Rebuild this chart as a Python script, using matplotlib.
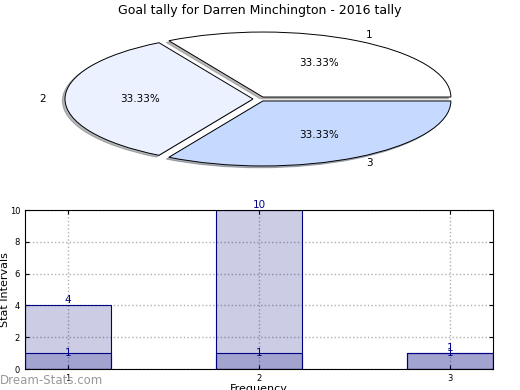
import matplotlib
matplotlib.use("Agg")
import matplotlib.pyplot as plt

title = "Goal tally for Darren Minchington - 2016 tally"
pie_labels = ["1", "2", "3"]
pie_values = [1, 1, 1]
pie_colors = ["#ffffff", "#ebf1ff", "#c6d9ff"]

bar_x = [1, 2, 3]
bar_tall = [4, 10, 1]
bar_short = [1, 1, 1]
yticks = [0, 2, 4, 6, 8, 10]

fig = plt.figure(figsize=(5.2, 3.9), dpi=100)
fig.text(0.5, 0.974, title, ha="center", va="center", fontsize=9)

# Pie
axp = fig.add_axes([0.0292, 0.5295, 0.94, 0.4333])
wedges, texts, autotexts = axp.pie(
    pie_values, labels=pie_labels, colors=pie_colors, explode=[0.035] * 3,
    autopct="%1.2f%%", pctdistance=0.6, labeldistance=1.1,
    shadow={"ox": -0.01, "oy": -0.02, "shade": 0.55},
    startangle=0, counterclock=True,
    wedgeprops=dict(edgecolor="black", linewidth=0.7),
    textprops=dict(fontsize=7.5))
axp.set_aspect("auto")
axp.set_xlim(-1.3, 1.3)
axp.set_ylim(-1.3, 1.3)

# Bars
axb = fig.add_axes([0.048, 0.0538, 0.9, 0.4077])
face = (0, 0, 0.5, 0.2)
axb.bar(bar_x, bar_tall, width=0.45, facecolor=face, edgecolor="navy", linewidth=0.8, zorder=2)
axb.bar(bar_x, bar_short, width=0.45, facecolor=face, edgecolor="navy", linewidth=0.8, zorder=3)
for x, h in zip(bar_x, bar_tall):
    axb.text(x, h, str(h), ha="center", va="bottom", color="#00008b", fontsize=7.5, zorder=4)
for x, h in zip(bar_x, bar_short):
    axb.text(x, h, str(h), ha="center", va="center", color="#00008b", fontsize=7.5, zorder=4)
axb.set_xlim(0.775, 3.225)
axb.set_ylim(0, 10)
axb.set_xticks(bar_x)
axb.set_yticks(yticks)
axb.tick_params(labelsize=6, direction="in", top=True, right=True, length=3)
axb.grid(True, linestyle=":", color="#b0b0b0", linewidth=1, zorder=0)
axb.set_axisbelow(True)
axb.set_ylabel("Stat Intervals", fontsize=8)
axb.yaxis.set_label_coords(-0.031, 0.5)
axb.set_xlabel("Frequency", fontsize=8, labelpad=1)

fig.text(0.0, 0.025, "Dream-Stats.com", fontsize=8.5, color="#999999",
         ha="left", va="center")

fig.savefig("out.png", dpi=100)
